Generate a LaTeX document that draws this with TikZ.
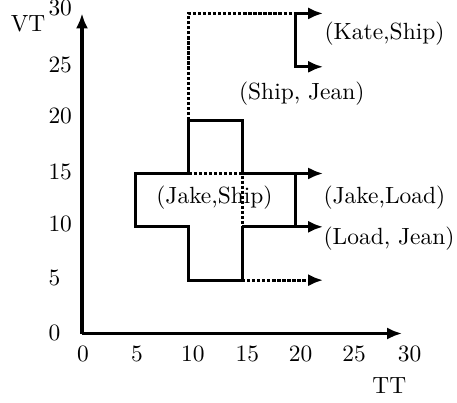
\documentclass[tikz,border=0pt]{standalone}
\usetikzlibrary{arrows.meta}
\usetikzlibrary{positioning}

\begin{document}
\begin{tikzpicture}[x=0.16cm, y=0.16cm, line width=1.3pt,
    >={Latex[length=6.4pt,width=5.2pt]},
    dotline/.style={dash pattern=on 1.4pt off 0.75pt},
    lbl/.style={inner sep=0pt}]
    \useasboundingbox (-7.685,-6.42) rectangle (35.15,31.26);

    % axes
    \coordinate (o) at (0,0);
    \coordinate (xend) at (30,0);
    \coordinate (yend) at (0,30);
    \draw [->] (o) -- (xend);
    \draw [->] (o) -- (yend);

    \node (vt) [lbl] at (-5.06,29.0) {VT};
    \node (tt) [lbl] at (28.8,-4.86) {TT};

    \foreach \v/\xx in {0/0.1,5/5.15,10/10.4,15/15.5,20/20.5,25/25.5,30/30.7}
      \node (xl\v) [lbl] at (\xx,-1.87) {\v};
    \foreach \v/\yy in {0/0.05,5/5.2,10/10.3,15/15.1,20/20.4,25/25.2,30/30.5}
      \node (yl\v) [lbl, anchor=west] at (-3.28,\yy) {\v};

    % corners
    \coordinate (a1) at (5,15);
    \coordinate (a2) at (5,10);
    \coordinate (b1) at (10,20);
    \coordinate (b2) at (15,20);
    \coordinate (c) at (10,15);
    \coordinate (d) at (15,15);
    \coordinate (e) at (10,10);
    \coordinate (f) at (15,10);
    \coordinate (g) at (10,5);
    \coordinate (h) at (15,5);
    \coordinate (r15) at (20,15);
    \coordinate (r10) at (20,10);
    \coordinate (top) at (10,30);
    \coordinate (k30) at (20,30);
    \coordinate (k25) at (20,25);
    \coordinate (t30) at (22.6,30);
    \coordinate (t25) at (22.6,25);
    \coordinate (t15) at (22.6,15);
    \coordinate (t10) at (22.6,10);
    \coordinate (t5) at (22.6,5);

    % solid edges
    \draw (a1) -- (c) -- (b1) -- (b2) -- (d);
    \draw (c) -- (a1) -- (a2) -- (e) -- (g) -- (h) -- (f);
    \draw [->] (d) -- (t15);
    \draw [->] (f) -- (t10);
    \draw (r15) -- (r10);
    \draw [->] (k30) -- (t30);
    \draw [->] (k30) -- (k25) -- (t25);

    % dotted edges
    \draw [dotline] (c) -- (d) -- (f);
    \draw [dotline] (b1) -- (top) -- (k30);
    \draw [dotline, ->] (h) -- (t5);

    % labels
    \node (kate) [lbl, anchor=west] at (22.6,28.13) {(Kate,Ship)};
    \node (shipjean) [lbl] at (20.6,22.5) {(Ship, Jean)};
    \node (jakeship) [lbl] at (12.42,12.76) {(Jake,Ship)};
    \node (jakeload) [lbl, anchor=west] at (22.5,12.76) {(Jake,Load)};
    \node (loadjean) [lbl, anchor=west] at (22.5,8.88) {(Load, Jean)};
  \end{tikzpicture}
\end{document}
